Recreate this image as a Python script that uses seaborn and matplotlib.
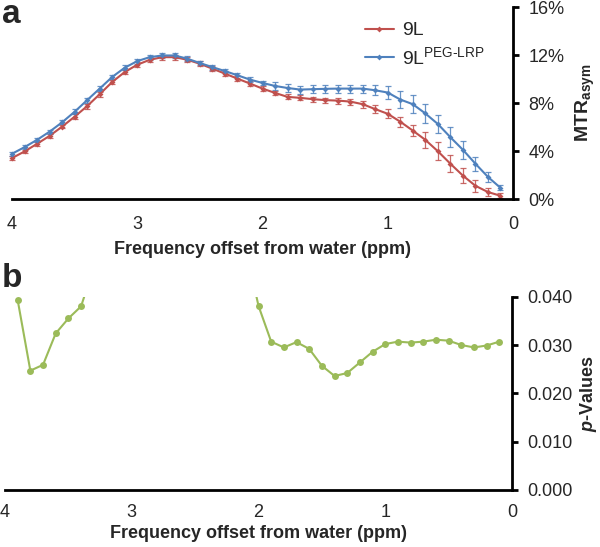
import numpy as np
import pandas as pd
import matplotlib
matplotlib.use("Agg")
import matplotlib.pyplot as plt
from matplotlib.ticker import FuncFormatter
import seaborn as sns

# chemical shift offsets (ppm)
offsets = [4.0, 3.9, 3.8, 3.7, 3.6, 3.5, 3.4, 3.3, 3.2, 3.1,
           3.0, 2.9, 2.8, 2.7, 2.6, 2.5, 2.4, 2.3, 2.2, 2.1,
           2.0, 1.9, 1.8, 1.7, 1.6, 1.5, 1.4, 1.3, 1.2, 1.1,
           1.0, 0.9, 0.8, 0.7, 0.6, 0.5, 0.4, 0.3, 0.2, 0.1]

# MTRasym (%)
mtr_9l = [3.41, 3.96, 4.60, 5.26, 6.03, 6.86, 7.74, 8.73, 9.75, 10.58,
          11.19, 11.60, 11.82, 11.82, 11.60, 11.27, 10.86, 10.45, 10.03, 9.62,
          9.20, 8.84, 8.51, 8.43, 8.32, 8.24, 8.20, 8.12, 7.90, 7.49,
          7.10, 6.44, 5.70, 4.93, 3.98, 2.94, 1.95, 1.10, 0.58, 0.27]
err_9l = [0.15, 0.15, 0.15, 0.15, 0.15, 0.2, 0.2, 0.2, 0.2, 0.2,
          0.2, 0.2, 0.2, 0.2, 0.2, 0.2, 0.2, 0.2, 0.2, 0.2,
          0.2, 0.2, 0.2, 0.2, 0.2, 0.2, 0.25, 0.25, 0.3, 0.35,
          0.37, 0.41, 0.48, 0.69, 0.75, 0.73, 0.65, 0.52, 0.3, 0.2]

mtr_peg = [3.77, 4.32, 4.93, 5.61, 6.39, 7.27, 8.24, 9.20, 10.17, 10.94,
           11.49, 11.82, 11.96, 11.96, 11.69, 11.33, 10.99, 10.66, 10.31, 9.95,
           9.67, 9.42, 9.25, 9.12, 9.15, 9.18, 9.20, 9.20, 9.20, 9.06,
           8.87, 8.29, 7.90, 7.13, 6.25, 5.15, 4.10, 2.94, 1.84, 0.93]
err_peg = [0.18, 0.18, 0.18, 0.18, 0.18, 0.2, 0.2, 0.2, 0.2, 0.2,
           0.2, 0.2, 0.2, 0.2, 0.2, 0.2, 0.2, 0.2, 0.2, 0.2,
           0.2, 0.33, 0.33, 0.33, 0.33, 0.33, 0.33, 0.33, 0.33, 0.4,
           0.55, 0.69, 0.73, 0.79, 0.79, 0.83, 0.76, 0.6, 0.45, 0.2]

# p-values (points above 0.04 are off the chart)
p_values = [np.nan, 0.0393, 0.0247, 0.0259, 0.0324, 0.0355, 0.0380, 0.046, np.nan, np.nan,
            np.nan, np.nan, np.nan, np.nan, np.nan, np.nan, np.nan, np.nan, np.nan, 0.050,
            0.0381, 0.0307, 0.0295, 0.0306, 0.0292, 0.0257, 0.0236, 0.0242, 0.0264, 0.0286,
            0.0302, 0.0307, 0.0305, 0.0307, 0.0311, 0.0309, 0.0300, 0.0295, 0.0299, 0.0307]

groups = ["9L", r"9L$^{\mathrm{PEG\text{-}LRP}}$"]
colors = ["#C0504D", "#4F81BD"]
green = "#9BBB59"

sns.set_style("white")
plt.rcParams["font.family"] = ["Liberation Sans", "DejaVu Sans"]
plt.rcParams["mathtext.fontset"] = "custom"
plt.rcParams["mathtext.rm"] = "Liberation Sans"
plt.rcParams["mathtext.bf"] = "Liberation Sans:bold"
plt.rcParams["mathtext.it"] = "Liberation Sans:italic"
plt.rcParams["mathtext.bfit"] = "Liberation Sans:italic:bold"

df = pd.DataFrame({
    "offset": offsets * 2,
    "mtr": mtr_9l + mtr_peg,
    "group": [groups[0]] * len(offsets) + [groups[1]] * len(offsets),
})
dfp = pd.DataFrame({"offset": offsets, "p": p_values})

fig = plt.figure(figsize=(6, 5.47), dpi=100)
ax1 = fig.add_axes([12 / 600, 1 - 199 / 547, (513 - 12) / 600, (199 - 7) / 547])
ax2 = fig.add_axes([5 / 600, 1 - 490 / 547, (512 - 5) / 600, (490 - 296.7) / 547])


def style_axis(ax, xpad, lpad):
    ax.invert_xaxis()
    ax.set_xlim(4, 0)
    ax.set_xticks([4, 3, 2, 1, 0])
    ax.yaxis.tick_right()
    ax.yaxis.set_label_position("right")
    for s in ["left", "top"]:
        ax.spines[s].set_visible(False)
    for s in ["right", "bottom"]:
        ax.spines[s].set_linewidth(2)
        ax.spines[s].set_color("black")
    ax.tick_params(axis="both", direction="out", length=4, width=2,
                   labelsize=13, color="black")
    ax.tick_params(axis="x", pad=xpad)
    ax.tick_params(axis="y", pad=7)
    ax.set_xlabel("Frequency offset from water (ppm)", fontsize=13,
                  fontweight="bold", labelpad=lpad)


# panel a
for g, y, e, c in zip(groups, [mtr_9l, mtr_peg], [err_9l, err_peg], colors):
    ax1.errorbar(offsets, y, yerr=e, fmt="none", ecolor=c, elinewidth=0.9,
                 capsize=2.5, capthick=0.9, alpha=0.85, clip_on=False)
sns.lineplot(data=df, x="offset", y="mtr", hue="group", palette=colors,
             marker="D", markersize=3, markeredgewidth=0, linewidth=1.5,
             ax=ax1, legend=True, clip_on=False)
ax1.set_ylim(0, 16)
ax1.set_yticks([0, 4, 8, 12, 16])
ax1.yaxis.set_major_formatter(FuncFormatter(lambda v, p: f"{v:.0f}%"))
style_axis(ax1, 8, 6)
ax1.set_ylabel(r"$\mathbf{MTR_{asym}}$", fontsize=14, labelpad=7)
h, l = ax1.get_legend_handles_labels()
ax1.legend(h, l, loc="upper left", bbox_to_anchor=(355 / 600, 1 - 12 / 547),
           bbox_transform=fig.transFigure, frameon=False, fontsize=14,
           handlelength=1.5, handletextpad=0.4, borderpad=0, labelspacing=0.35)

# panel b
sns.lineplot(data=dfp, x="offset", y="p", color=green, marker="o",
             markersize=5, markeredgewidth=0, linewidth=1.5, ax=ax2)
ax2.set_ylim(0, 0.04)
ax2.set_yticks([0, 0.01, 0.02, 0.03, 0.04])
ax2.yaxis.set_major_formatter(FuncFormatter(lambda v, p: f"{v:.3f}"))
style_axis(ax2, 6, 3)
ax2.set_ylabel(r"$\mathbfit{p}$-Values", fontsize=13, fontweight="bold", labelpad=4)

fig.text(2 / 600, 1 - 23 / 547, "a", fontsize=24, fontweight="bold", va="baseline")
fig.text(2 / 600, 1 - 287 / 547, "b", fontsize=24, fontweight="bold", va="baseline")

fig.savefig("out.png", dpi=100)
